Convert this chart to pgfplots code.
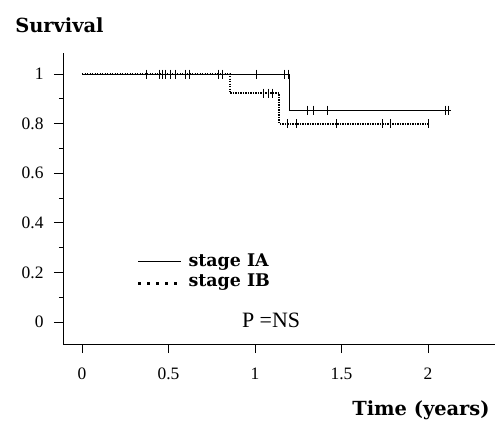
\documentclass[border=0pt]{standalone}
\usepackage{fontspec}
\setmainfont{Liberation Serif}
\newfontfamily\wide{DejaVu Serif}
\newcommand\tl{\fontsize{17.5}{20}\selectfont}
\usepackage{pgfplots}
\pgfplotsset{compat=1.18}

\begin{document}
\begin{tikzpicture}
\begin{axis}[
    at={(0,0)}, anchor=south west,
    scale only axis, width=432bp, height=291bp,
    xmin=-0.110, xmax=2.387, ymin=-0.0887, ymax=1.085,
    axis lines=left,
    axis line style={-, line width=1bp},
    xtick={0,0.5,1,1.5,2},
    xticklabels={0,0.5,1,1.5,2},
    ytick={0,0.2,0.4,0.6,0.8,1},
    yticklabels={0,0.2,0.4,0.6,0.8,1},
    minor ytick={0.1,0.3,0.5,0.7,0.9},
    tick align=outside,
    major tick length=9bp, minor tick length=4bp,
    tick style={black, line width=1bp},
    tick label style={font=\tl},
    xticklabel style={yshift=-11bp},
    yticklabel style={xshift=-7bp},
    clip=false,
    legend cell align=left,
    legend style={draw=none, fill=none, inner sep=0pt,
        at={(rel axis cs:0.171,0.316)}, anchor=north west,
        font=\wide\bfseries\fontsize{17.5}{20}\selectfont,
        row sep=1bp,
        /tikz/every odd column/.style={column sep=4bp}},
]
% Kaplan-Meier curves
\addplot[const plot, black, line width=0.9bp,
    legend image code/.code={\draw[solid, line width=0.9bp] (0bp,0bp) -- (43bp,0bp);}]
    coordinates {(0,1) (1.20,0.855) (2.13,0.855)};
\addlegendentry{stage IA}
\addplot[const plot, black, line width=2.2bp, dash pattern=on 1.2bp off 1.3bp,
    legend image code/.code={\draw[line width=2.5bp, dash pattern=on 2.5bp off 6.5bp] (0bp,-3bp) -- (43bp,-3bp);}]
    coordinates {(0,1) (0.855,0.923) (1.14,0.80) (2.01,0.80)};
\addlegendentry{stage IB}

% censored observations
\addplot[only marks, mark=|, mark size=4.5bp, black, mark options={line width=0.8bp}, forget plot]
    coordinates {(1.006,1) (1.17,1) (1.19,1) (1.30,0.855) (1.335,0.855) (1.42,0.855) (2.10,0.855) (2.12,0.855)};
\addplot[only marks, mark=|, mark size=4.5bp, black, mark options={line width=0.8bp}, forget plot]
    coordinates {(0.37,1) (0.45,1) (0.465,1) (0.48,1) (0.51,1) (0.54,1) (0.60,1) (0.62,1) (0.79,1) (0.81,1)
    (1.05,0.923) (1.075,0.923) (1.10,0.923)
    (1.185,0.80) (1.24,0.80) (1.47,0.80) (1.735,0.80) (1.78,0.80) (2.00,0.80)};

\node[anchor=base west, inner sep=0pt, font=\wide\bfseries\fontsize{19.5}{22}\selectfont]
    at (rel axis cs:-0.111,1.072) {Survival};
\node[anchor=base east, inner sep=0pt, font=\wide\bfseries\fontsize{19.5}{22}\selectfont]
    at (rel axis cs:0.988,-0.244) {Time (years)};
\node[anchor=base west, inner sep=0pt, font=\fontsize{22}{26}\selectfont]
    at (rel axis cs:0.414,0.058) {P =NS};
\end{axis}
\pgfresetboundingbox
\useasboundingbox (-63bp,-86bp) rectangle (432bp,344bp);
\end{tikzpicture}
\end{document}
